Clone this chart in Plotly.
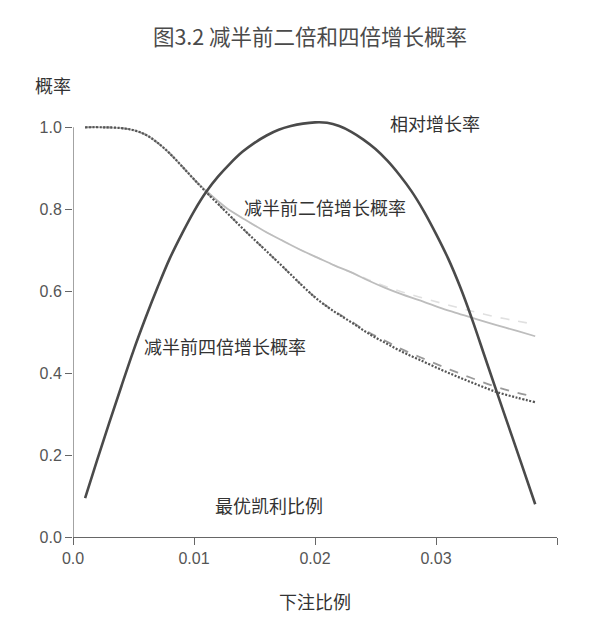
import plotly.graph_objects as go

# ---- data ----
bet_growth = [0.001, 0.002, 0.003, 0.004, 0.005, 0.006, 0.007, 0.008, 0.009, 0.010,
              0.011, 0.012, 0.013, 0.014, 0.015, 0.016, 0.017, 0.018, 0.019, 0.020,
              0.021, 0.022, 0.023, 0.024, 0.025, 0.026, 0.027, 0.028, 0.029, 0.030,
              0.031, 0.032, 0.033, 0.034, 0.035, 0.036, 0.037, 0.0382]
relative_growth = [0.095, 0.188, 0.279, 0.368, 0.455, 0.535, 0.61, 0.68, 0.74, 0.795,
                   0.842, 0.88, 0.912, 0.94, 0.962, 0.98, 0.994, 1.003, 1.009, 1.012,
                   1.011, 1.003, 0.989, 0.97, 0.947, 0.918, 0.883, 0.843, 0.795, 0.74,
                   0.68, 0.61, 0.53, 0.443, 0.356, 0.27, 0.184, 0.08]

bet_prob = [0.001, 0.0025, 0.004, 0.005, 0.006, 0.007, 0.008, 0.009, 0.010, 0.011,
            0.0126, 0.0142, 0.0158, 0.0174, 0.019, 0.0202, 0.0216, 0.023, 0.0244,
            0.0258, 0.0272, 0.0286, 0.0303, 0.0318, 0.0334, 0.035, 0.0367, 0.0382]
prob_4x = [1.0, 1.0, 0.998, 0.993, 0.982, 0.962, 0.936, 0.905, 0.873, 0.842,
           0.795, 0.748, 0.703, 0.658, 0.612, 0.580, 0.550, 0.524, 0.497,
           0.474, 0.452, 0.433, 0.410, 0.391, 0.372, 0.354, 0.340, 0.329]
prob_4x_alt = [1.0, 1.0, 0.998, 0.993, 0.982, 0.962, 0.936, 0.905, 0.873, 0.842,
               0.795, 0.748, 0.703, 0.658, 0.612, 0.580, 0.551, 0.526, 0.500,
               0.479, 0.458, 0.440, 0.419, 0.401, 0.383, 0.366, 0.352, 0.342]
prob_2x = [1.0, 1.0, 0.998, 0.993, 0.982, 0.962, 0.936, 0.905, 0.873, 0.845,
           0.805, 0.775, 0.747, 0.722, 0.698, 0.682, 0.663, 0.646, 0.626,
           0.608, 0.592, 0.578, 0.560, 0.546, 0.531, 0.517, 0.503, 0.490]
prob_2x_alt = [1.0, 1.0, 0.998, 0.993, 0.982, 0.962, 0.936, 0.905, 0.873, 0.845,
               0.805, 0.775, 0.747, 0.722, 0.698, 0.682, 0.663, 0.646, 0.628,
               0.612, 0.598, 0.586, 0.572, 0.560, 0.548, 0.537, 0.527, 0.519]

x_ticks = [0.0, 0.01, 0.02, 0.03, 0.04]
x_tick_labels = ["0.0", "0.01", "0.02", "0.03", ""]
y_ticks = [0.0, 0.2, 0.4, 0.6, 0.8, 1.0]
y_tick_labels = ["0.0", "0.2", "0.4", "0.6", "0.8", "1.0"]

title_text = "图3.2 减半前二倍和四倍增长概率"
label_growth = "相对增长率"
label_2x = "减半前二倍增长概率"
label_4x = "减半前四倍增长概率"
label_kelly = "最优凯利比例"
x_title = "下注比例"
y_title = "概率"

CJK = "Noto Sans CJK SC"
NUM = "Liberation Sans"

fig = go.Figure()
fig.add_trace(go.Scatter(x=bet_prob, y=prob_2x_alt, mode="lines", line_shape="spline",
                         line=dict(color="#e0e0e0", width=1.6, dash="dash"), hoverinfo="skip"))
fig.add_trace(go.Scatter(x=bet_prob, y=prob_2x, mode="lines", line_shape="spline",
                         line=dict(color="#bdbdbd", width=1.8), hoverinfo="skip"))
fig.add_trace(go.Scatter(x=bet_prob, y=prob_4x_alt, mode="lines", line_shape="spline",
                         line=dict(color="#9a9a9a", width=1.8, dash="dash"), hoverinfo="skip"))
fig.add_trace(go.Scatter(x=bet_prob, y=prob_4x, mode="lines", line_shape="spline",
                         line=dict(color="#555555", width=2.2, dash="2px,1.6px"), hoverinfo="skip"))
fig.add_trace(go.Scatter(x=bet_growth, y=relative_growth, mode="lines", line_shape="spline",
                         line=dict(color="#4a4a4a", width=2.6), hoverinfo="skip"))

ann_font = dict(family=CJK, size=18, color="#333333")
fig.add_annotation(x=0.0299, y=1.01, text=label_growth, showarrow=False, font=ann_font,
                   xref="x", yref="y")
fig.add_annotation(x=0.0208, y=0.805, text=label_2x, showarrow=False, font=ann_font,
                   xref="x", yref="y")
fig.add_annotation(x=0.0126, y=0.466, text=label_4x, showarrow=False, font=ann_font,
                   xref="x", yref="y")
fig.add_annotation(x=0.0162, y=0.078, text=label_kelly, showarrow=False, font=ann_font,
                   xref="x", yref="y")
fig.add_annotation(x=-0.041, y=1.035, text=y_title, showarrow=False, font=ann_font,
                   xref="paper", yref="paper", xanchor="center", yanchor="bottom")

# y axis line only from 0 to 1 (R style)
fig.add_shape(type="line", xref="x", yref="y", x0=0, x1=0, y0=0, y1=1.0,
              line=dict(color="#666666", width=1.2))

# page body has an 8px margin, so the figure is 8px smaller than the window
fig.update_layout(
    width=604, height=614,
    paper_bgcolor="white", plot_bgcolor="white",
    showlegend=False,
    margin=dict(l=65, r=55, t=107, b=83),
    title=dict(text=title_text, x=0.5, xanchor="center", y=1 - 29 / 614, yanchor="middle",
               font=dict(family=CJK, size=21.5, color="#4a4a4a")),
    xaxis=dict(range=[0, 0.04], tickvals=x_ticks, ticktext=x_tick_labels,
               showgrid=False, zeroline=False, showline=True, linecolor="#666666", linewidth=1.2,
               ticks="outside", ticklen=7, tickcolor="#666666", tickwidth=1.2,
               tickfont=dict(family=NUM, size=16, color="#555555"),
               title=dict(text=x_title, font=dict(family=CJK, size=18, color="#333333"), standoff=30)),
    yaxis=dict(range=[0, 1.03], tickvals=y_ticks, ticktext=y_tick_labels,
               showgrid=False, zeroline=False, showline=False,
               ticks="outside", ticklen=7, tickcolor="#666666", tickwidth=1.2,
               tickfont=dict(family=NUM, size=16, color="#555555")),
)

fig.write_html("out.html")
